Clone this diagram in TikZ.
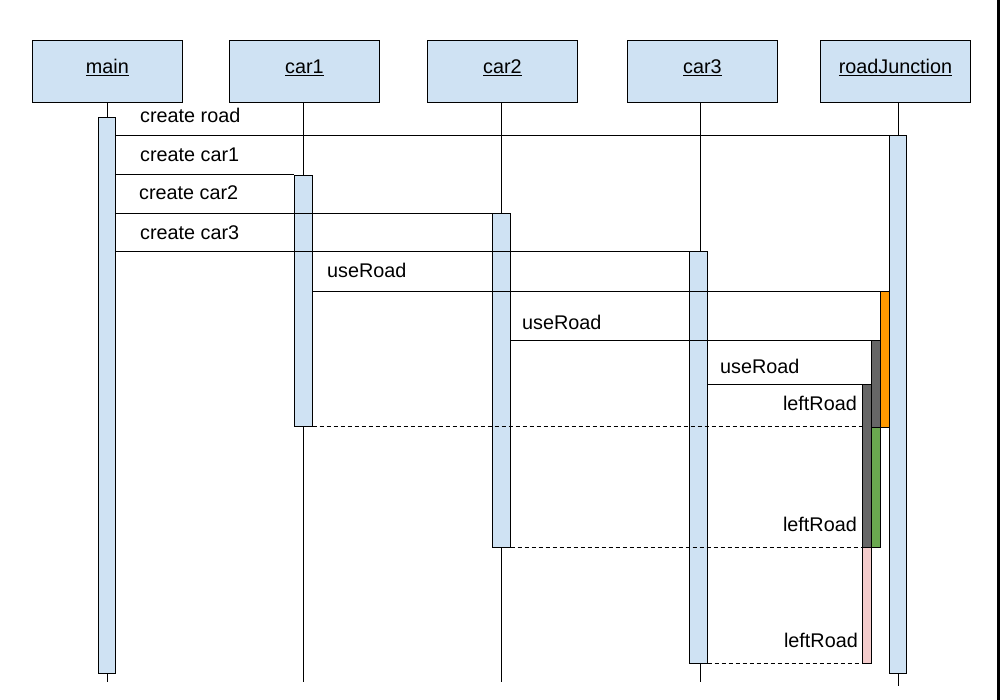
\documentclass[tikz,border=0pt]{standalone}
\usepackage{fontspec}
\setmainfont{Liberation Sans}
\definecolor{boxblue}{HTML}{CFE2F3}
\definecolor{barorange}{HTML}{FF9900}
\definecolor{bargray}{HTML}{666666}
\definecolor{bargreen}{HTML}{6AA84F}
\definecolor{barpink}{HTML}{F4CCCC}
\begin{document}
\begin{tikzpicture}[x=1pt,y=-1pt,
  head/.style={draw, fill=boxblue, line width=0.9pt, minimum width=150pt, minimum height=62pt, inner sep=0pt, text height=14pt, text depth=10pt, anchor=north west, font=\fontsize{19.8}{23}\selectfont},
  bar/.style={draw, fill=boxblue, line width=0.9pt, inner sep=0pt, minimum width=17.5pt, anchor=north},
  cbar/.style={draw=black, line width=0.9pt, inner sep=0pt, minimum width=9pt, anchor=north},
  lbl/.style={font=\fontsize{19.8}{23}\selectfont, inner sep=0pt},
  msg/.style={line width=0.9pt},
  ret/.style={line width=0.9pt, dash pattern=on 4pt off 3pt},
  life/.style={line width=0.9pt}]
\useasboundingbox (0,0) rectangle (1000,700);
\fill[white] (0,0) rectangle (1000,700);
\fill[black] (997,0) rectangle (1000,700);

% heads
\node[head] (main) at (32,40) {\underline{main}};
\node[head] (car1) at (229,40) {\underline{car1}};
\node[head] (car2) at (427,40) {\underline{car2}};
\node[head] (car3) at (627,40) {\underline{car3}};
\node[head] (rj) at (820,40) {\underline{roadJunction}};

% lifeline ends
\coordinate (mainend) at (107,682);
\coordinate (car1end) at (303.5,682);
\coordinate (car2end) at (501.5,682);
\coordinate (car3end) at (700,682);
\coordinate (rjend) at (898,686);
\draw[life] (main.south -| mainend) -- (mainend);
\draw[life] (car1.south -| car1end) -- (car1end);
\draw[life] (car2.south -| car2end) -- (car2end);
\draw[life] (car3.south -| car3end) -- (car3end);
\draw[life] (rj.south -| rjend) -- (rjend);

% activation bars
\node[bar, minimum height=556pt] (mainbar) at (107,117) {};
\node[bar, minimum height=251pt] (car1bar) at (303.5,175) {};
\node[bar, minimum height=334pt] (car2bar) at (501.5,213) {};
\node[bar, minimum height=412pt] (car3bar) at (698.5,251) {};
\node[bar, minimum height=538pt] (rjbar) at (898,135) {};

\node[cbar, fill=barorange, minimum height=136pt] (orange) at (884.5,291) {};
\node[cbar, fill=bargray, minimum height=87pt] (gray1) at (875.5,340) {};
\node[cbar, fill=bargreen, minimum height=120pt] (green) at (875.5,427) {};
\node[cbar, fill=bargray, minimum height=163pt] (gray2) at (866.5,384) {};
\node[cbar, fill=barpink, minimum height=116pt] (pink) at (866.5,547) {};

% messages
\draw[msg] (mainbar.east |- 0,135) -- (rjbar.west |- 0,135);
\draw[msg] (mainbar.east |- 0,174) -- (car1bar.west |- 0,174);
\draw[msg] (mainbar.east |- 0,213) -- (car2bar.west |- 0,213);
\draw[msg] (mainbar.east |- 0,251) -- (car3bar.west |- 0,251);
\draw[msg] (car1bar.east |- 0,291) -- (orange.west |- 0,291);
\draw[msg] (car2bar.east |- 0,340) -- (gray1.west |- 0,340);
\draw[msg] (car3bar.east |- 0,384) -- (gray2.west |- 0,384);
\draw[ret] (car1bar.east |- 0,426) -- (gray2.west |- 0,426);
\draw[ret] (car2bar.east |- 0,547) -- (gray2.west |- 0,547);
\draw[ret] (car3bar.east |- 0,663) -- (pink.west |- 0,663);

% labels
\node[lbl, anchor=base west] (l1) at (140,123) {create road};
\node[lbl, anchor=base west] (l2) at (140,162) {create car1};
\node[lbl, anchor=base west] (l3) at (139,200) {create car2};
\node[lbl, anchor=base west] (l4) at (140,240) {create car3};
\node[lbl, anchor=base west] (l5) at (327,278) {useRoad};
\node[lbl, anchor=base west] (l6) at (522,329) {useRoad};
\node[lbl, anchor=base west] (l7) at (720,373) {useRoad};
\node[lbl, anchor=base east] (l8) at (857,410) {leftRoad};
\node[lbl, anchor=base east] (l9) at (857,531) {leftRoad};
\node[lbl, anchor=base east] (l10) at (858,647) {leftRoad};
\end{tikzpicture}
\end{document}
